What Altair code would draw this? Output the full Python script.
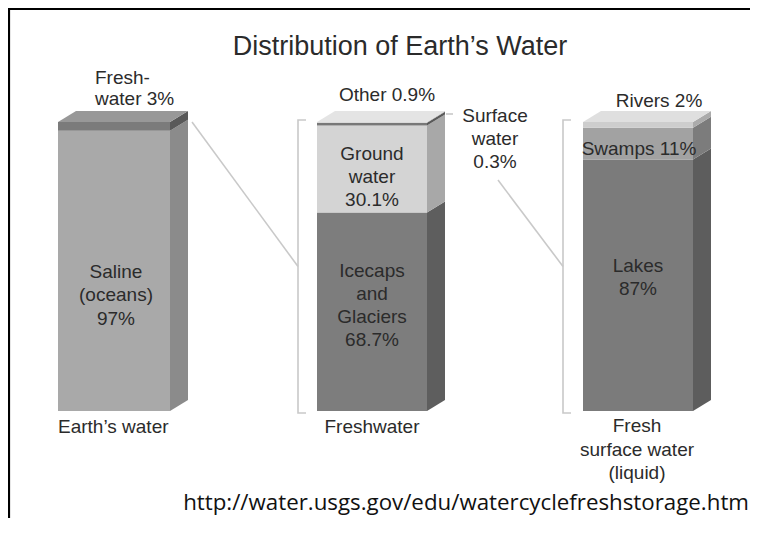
import altair as alt
import pandas as pd

# ---------------- data ----------------
earth_segments = ["Saline (oceans)", "Freshwater"]
earth_values = [97, 3]
fresh_segments = ["Icecaps and Glaciers", "Ground water", "Other", "Surface water"]
fresh_values = [68.7, 30.1, 0.9, 0.3]
surface_segments = ["Lakes", "Swamps", "Rivers"]
surface_values = [87, 11, 2]
bar_labels = [["Earth’s water"], ["Freshwater"], ["Fresh", "surface water", "(liquid)"]]
title_text = "Distribution of Earth’s Water"
source_text = "http://water.usgs.gov/edu/watercyclefreshstorage.htm"

# ---------------- layout / style ----------------
W, H = 742, 510
PAGE_LEFT, PAGE_TOP = 8, 8
BASE_PX = 411.0          # page y of the 0 % line of every bar
PX_PER_PCT = 2.89        # pixels per percentage point


def pct(py):
    return (BASE_PX - py) / PX_PER_PCT


xs = alt.Scale(domain=[PAGE_LEFT, PAGE_LEFT + W], nice=False, zero=False)
ys = alt.Scale(domain=[pct(PAGE_TOP + H), pct(PAGE_TOP)], nice=False, zero=False)

BAR_LEFT = [58, 317, 583]
BAR_W = [112, 110, 110]
DX = 18
DYP = 11 / PX_PER_PCT

FRONT = {"Saline (oceans)": "#a9a9a9", "Freshwater": "#7b7b7b",
         "Icecaps and Glaciers": "#7d7d7d", "Ground water": "#d4d4d4",
         "Other": "#787878", "Surface water": "#d8d8d8",
         "Lakes": "#7b7b7b", "Swamps": "#a2a2a2", "Rivers": "#cdcdcd"}
SIDE = {"Saline (oceans)": "#8b8b8b", "Freshwater": "#595959",
        "Icecaps and Glaciers": "#5e5e5e", "Ground water": "#a8a8a8",
        "Other": "#5a5a5a", "Surface water": "#b5b5b5",
        "Lakes": "#5d5d5d", "Swamps": "#7c7c7c", "Rivers": "#ababab"}
TOP = ["#989898", "#e4e4e4", "#dfdfdf"]
LINE_C = "#c9c9c9"
TEXT_C = "#2b2b2b"
FONT = "Liberation Sans"
LBL = 19

bars = [(earth_segments, earth_values), (fresh_segments, fresh_values),
        (surface_segments, surface_values)]

front_rows, side_rows, top_rows = [], [], []
for i, (segs, vals) in enumerate(bars):
    xl = BAR_LEFT[i]
    xr = xl + BAR_W[i]
    c = 0.0
    for s, v in zip(segs, vals):
        y0, y1 = c, c + v
        c = y1
        front_rows.append(dict(key=f"{i}-{s}", x=xl, x2=xr, y0=y0, y1=y1, fill=FRONT[s]))
        side_rows.append(dict(key=f"{i}-{s}", x=xr, lo=y0, hi=y1, fill=SIDE[s]))
        side_rows.append(dict(key=f"{i}-{s}", x=xr + DX, lo=y0 + DYP, hi=y1 + DYP, fill=SIDE[s]))
    top_rows.append(dict(key=f"t{i}", y=c, xa=xl, xb=xr, fill=TOP[i]))
    top_rows.append(dict(key=f"t{i}", y=c + DYP, xa=xl + DX, xb=xr + DX, fill=TOP[i]))

front = alt.Chart(pd.DataFrame(front_rows)).mark_rect(strokeWidth=0).encode(
    x=alt.X("x:Q", scale=xs, axis=None),
    x2="x2:Q",
    y=alt.Y("y0:Q", scale=ys, axis=None, stack=None),
    y2="y1:Q",
    color=alt.Color("fill:N", scale=None),
)

side = alt.Chart(pd.DataFrame(side_rows)).mark_area(orient="vertical", strokeWidth=0).encode(
    x=alt.X("x:Q", scale=xs, axis=None),
    y=alt.Y("lo:Q", scale=ys, axis=None, stack=None),
    y2="hi:Q",
    color=alt.Color("fill:N", scale=None),
    detail="key:N",
)

top = alt.Chart(pd.DataFrame(top_rows)).mark_area(orient="horizontal", strokeWidth=0).encode(
    y=alt.Y("y:Q", scale=ys, axis=None),
    x=alt.X("xa:Q", scale=xs, axis=None, stack=None),
    x2="xb:Q",
    color=alt.Color("fill:N", scale=None),
    detail="key:N",
)

# brackets and connector lines
line_rows = []
for bi, bx in [(1, 298), (2, 563)]:
    pts = [(bx + 8, 100.7), (bx, 100.7), (bx, -0.7), (bx + 8, -0.7)]
    for j, (px, pv) in enumerate(pts):
        line_rows.append(dict(key=f"b{bi}", o=j, x=px, y=pv))
conn = [
    ("c1", [(192, pct(122)), (298, 50)]),
    ("c2", [(498, pct(180)), (563, 50)]),
    ("c3", [(446, pct(114)), (453, pct(114))]),
]
for k, pts in conn:
    for j, (px, pv) in enumerate(pts):
        line_rows.append(dict(key=k, o=j, x=px, y=pv))
lines = alt.Chart(pd.DataFrame(line_rows)).mark_line(color=LINE_C, strokeWidth=1.6).encode(
    x=alt.X("x:Q", scale=xs, axis=None),
    y=alt.Y("y:Q", scale=ys, axis=None),
    detail="key:N",
    order="o:Q",
)

# frame
frame_rows = [
    dict(x=8, x2=PAGE_LEFT + W, y=pct(9), y2=pct(9)),
    dict(x=9, x2=9, y=pct(8), y2=pct(PAGE_TOP + H)),
]
frame = alt.Chart(pd.DataFrame(frame_rows)).mark_rule(color="black", strokeWidth=2.2).encode(
    x=alt.X("x:Q", scale=xs, axis=None),
    x2="x2:Q",
    y=alt.Y("y:Q", scale=ys, axis=None),
    y2="y2:Q",
)

# texts
def fmt(v):
    return f"{v:g}%"

center_rows = [
    (title_text, 400, 55, 27),
    (f"Other {fmt(fresh_values[2])}", 387, 101, LBL),
    ("Surface", 495, 122, LBL), ("water", 495, 145, LBL), (fmt(fresh_values[3]), 495, 168, LBL),
    (f"Rivers {fmt(surface_values[2])}", 659, 107, LBL),
    (f"Swamps {fmt(surface_values[1])}", 639, 155, LBL),
    ("Ground", 372, 160, LBL), ("water", 372, 183, LBL), (fmt(fresh_values[1]), 372, 206, LBL),
    ("Icecaps", 372, 277, LBL), ("and", 372, 300, LBL), ("Glaciers", 372, 323, LBL),
    (fmt(fresh_values[0]), 372, 346, LBL),
    ("Saline", 116, 278, LBL), ("(oceans)", 116, 301, LBL), (fmt(earth_values[0]), 116, 325, LBL),
    (surface_segments[0], 638, 272, LBL), (fmt(surface_values[0]), 638, 295, LBL),
    (bar_labels[1][0], 372, 433, LBL),
    (bar_labels[2][0], 637, 432, LBL), (bar_labels[2][1], 637, 456, LBL), (bar_labels[2][2], 637, 479, LBL),
]
left_rows = [
    ("Fresh-", 95, 84, LBL),
    (f"water {fmt(earth_values[1])}", 95, 105, LBL),
    (bar_labels[0][0], 58, 433, LBL),
]


def text_layer(rows, align, font, color):
    df = pd.DataFrame([dict(text=t, x=x, y=pct(y), size=s) for t, x, y, s in rows])
    return alt.Chart(df).mark_text(align=align, baseline="alphabetic", font=font, color=color).encode(
        x=alt.X("x:Q", scale=xs, axis=None),
        y=alt.Y("y:Q", scale=ys, axis=None),
        text="text:N",
        size=alt.Size("size:Q", scale=None),
    )


t_center = text_layer(center_rows, "center", FONT, TEXT_C)
t_left = text_layer(left_rows, "left", FONT, TEXT_C)
t_src = text_layer([(source_text, 749, 510, 22.3)], "right", "Open Sans", "#111111")

chart = alt.layer(front, side, top, lines, frame, t_center, t_left, t_src).properties(
    width=W, height=H,
    autosize=alt.AutoSizeParams(type="none"),
    padding=0,
    background="white",
).configure_view(strokeWidth=0, stroke=None)

chart.save("out.html", embed_options={"renderer": "svg", "actions": False})
